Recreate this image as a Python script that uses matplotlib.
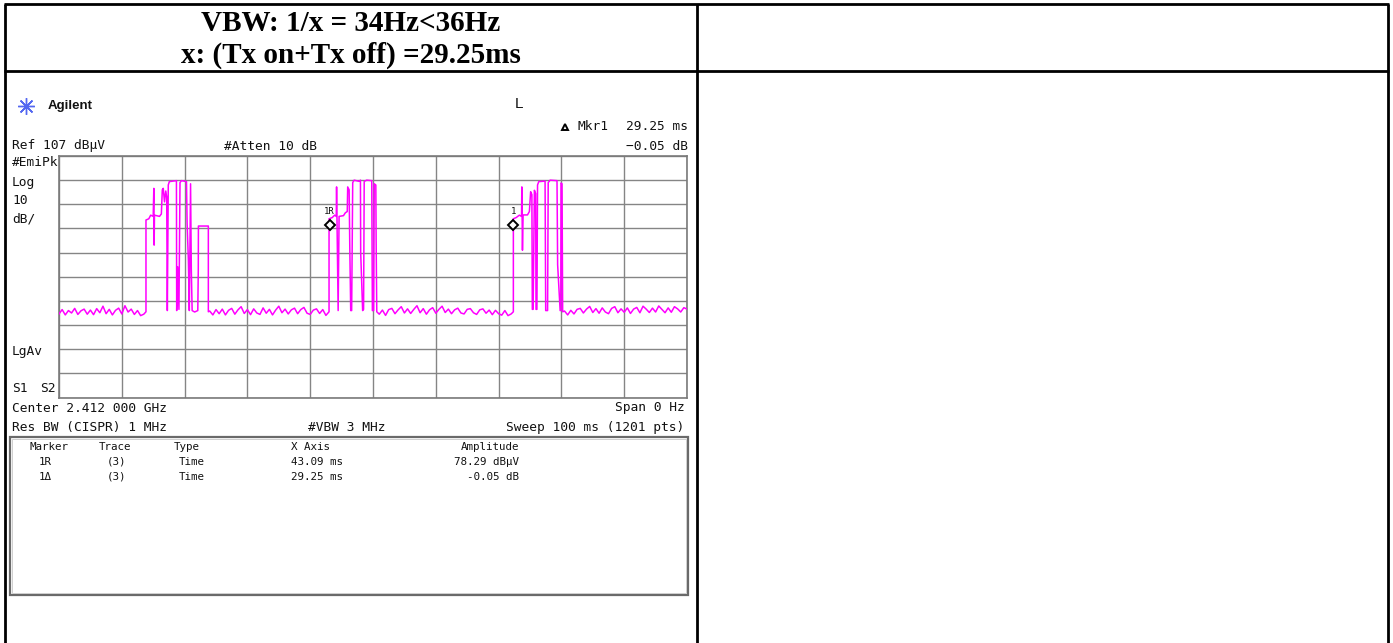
import numpy as np
import matplotlib
matplotlib.use('Agg')
import matplotlib.pyplot as plt
from matplotlib.patches import Rectangle

W, H = 1393, 643

# header cell text
title_lines = ['VBW: 1/x = 34Hz<36Hz', 'x: (Tx on+Tx off) =29.25ms']

# analyzer settings
ref_level = 107.0      # dBuV at top graticule line
db_per_div = 10.0
sweep_ms = 100.0

# noise floor between bursts (dBuV), one value every 0.5 ms from the start time
floor_start = [0.0, 24.0, 51.0, 80.5]
floor_a = [41.6, 43.4, 41.2, 43.0, 42.0, 43.9, 41.4, 42.9, 43.6, 41.5, 43.2, 41.3,
           43.8, 42.1, 44.8, 41.7, 43.5, 41.2, 43.1, 44.0, 41.6, 45.0, 42.4, 43.6,
           41.4, 43.0, 40.9, 41.5]
floor_b = [42.8, 41.2, 43.4, 41.7, 43.6, 41.2, 43.1, 43.9, 41.5, 43.3, 44.6, 41.8,
           43.4, 41.3, 43.7, 42.0, 41.4, 44.1, 41.9, 43.5, 41.2, 43.2, 44.8, 42.1,
           43.6, 41.6, 43.3, 44.0, 41.7, 43.4, 44.3, 41.9, 41.4, 43.2, 43.7, 41.8,
           43.4, 41.0]
floor_c = [41.5, 43.2, 41.0, 43.4, 43.9, 41.7, 43.3, 44.6, 42.0, 43.7, 41.8, 43.5,
           45.0, 42.1, 43.8, 41.5, 43.3, 44.2, 41.9, 43.5, 44.8, 42.2, 43.6, 41.7,
           43.3, 44.0, 42.0, 41.6, 43.5, 43.8, 42.1, 41.4, 43.3, 43.7, 41.9, 43.2,
           41.3, 43.1, 41.7, 41.1, 43.0, 40.9, 41.6]
floor_d = [42.8, 41.2, 43.1, 41.6, 43.5, 43.9, 42.0, 43.6, 44.7, 42.2, 43.8, 41.9,
           44.1, 42.4, 41.7, 43.9, 44.6, 42.1, 43.7, 42.3, 44.1, 41.8, 43.6, 44.3,
           42.1, 44.8, 43.6, 42.2, 44.0, 42.4, 44.9, 43.5, 42.1, 44.1, 42.3, 44.6,
           43.7, 42.4, 44.2, 43.6]

# transmit bursts as (time ms, level dBuV) vertices
burst_1 = [(13.85, 42.5), (13.85, 80.5), (14.3, 81.0), (14.6, 82.5), (15.0, 82.0),
           (15.1, 93.6), (15.15, 70.1), (15.2, 82.5), (16.0, 82.0), (16.3, 83.0),
           (16.45, 93.0), (16.6, 93.6), (16.8, 88.0), (17.0, 92.5), (17.15, 90.0),
           (17.25, 43.0), (17.4, 95.0), (17.57, 96.4), (18.7, 96.8), (18.74, 43.0),
           (18.9, 61.1), (19.1, 43.5), (19.27, 96.0), (19.5, 96.8), (20.3, 96.4),
           (20.4, 79.1), (20.6, 63.9), (20.75, 43.0), (20.95, 95.5), (21.07, 59.8),
           (21.2, 43.0), (21.6, 42.4), (22.1, 43.0), (22.18, 59.8), (22.2, 78.0),
           (23.78, 78.0), (23.78, 42.5)]
burst_2 = [(43.0, 42.5), (43.0, 81.0), (43.5, 81.5), (43.9, 82.5), (44.15, 82.0),
           (44.2, 94.2), (44.45, 43.0), (44.6, 82.0), (45.3, 82.3), (45.6, 83.5),
           (45.9, 84.0), (45.97, 94.2), (46.2, 93.0), (46.3, 70.0), (46.45, 43.0),
           (46.6, 43.0), (46.77, 96.0), (47.0, 97.0), (47.8, 96.5), (48.0, 97.0),
           (48.04, 67.0), (48.35, 43.0), (48.5, 43.5), (48.6, 96.5), (49.0, 97.0),
           (49.8, 96.8), (49.9, 43.0), (50.1, 43.0), (50.2, 95.5), (50.45, 95.0),
           (50.5, 72.0), (50.6, 42.5)]
burst_3 = [(72.35, 42.5), (72.35, 81.0), (72.8, 81.5), (73.3, 82.5), (73.65, 82.0),
           (73.7, 94.2), (73.8, 68.0), (73.9, 82.6), (74.6, 82.6), (74.9, 84.0),
           (75.1, 92.2), (75.3, 91.0), (75.37, 43.5), (75.5, 43.5), (75.7, 92.8),
           (75.9, 91.5), (75.96, 43.5), (76.1, 43.5), (76.2, 95.0), (76.4, 96.4),
           (77.4, 96.6), (77.5, 43.0), (77.8, 43.0), (77.9, 96.0), (78.2, 97.0),
           (79.3, 96.8), (79.4, 62.0), (79.8, 43.0), (79.9, 43.0), (79.94, 95.8),
           (80.1, 95.5), (80.2, 42.5)]

# markers: reference (time ms, dBuV) and delta (ms, dB)
marker_ref = (43.09, 78.29)
marker_delta = (29.25, -0.05)

table_header = ['Marker', 'Trace', 'Type', 'X Axis', 'Amplitude']
table_rows = [['1R', '(3)', 'Time', '43.09 ms', '78.29 dBμV'],
              ['1Δ', '(3)', 'Time', '29.25 ms', '-0.05 dB']]


def floor_segment(start, levels):
    t = start + 0.5 * np.arange(len(levels))
    return list(zip(t, levels))


trace = (floor_segment(floor_start[0], floor_a) + burst_1 +
         floor_segment(floor_start[1], floor_b) + burst_2 +
         floor_segment(floor_start[2], floor_c) + burst_3 +
         floor_segment(floor_start[3], floor_d))
trace_t, trace_db = np.array(trace).T

fig = plt.figure(figsize=(W / 100, H / 100), dpi=100)
page = fig.add_axes([0, 0, 1, 1])
page.set_xlim(0, W)
page.set_ylim(H, 0)
page.axis('off')

# table borders
lw = 2.0
page.plot([4, 1389], [4, 4], color='black', lw=lw, solid_capstyle='butt')
page.plot([4, 1389], [71, 71], color='black', lw=lw, solid_capstyle='butt')
for x in [5, 697, 1388]:
    page.plot([x, x], [4, H], color='black', lw=lw, solid_capstyle='butt')

page.text(351, 31, title_lines[0], ha='center', va='baseline', fontsize=21,
          family='Liberation Serif', fontweight='bold')
page.text(351, 63, title_lines[1], ha='center', va='baseline', fontsize=21,
          family='Liberation Serif', fontweight='bold')

# analyzer screen annotations
mono = 'DejaVu Sans Mono'
ink = '#111111'
fs = 9.3
page.plot(26, 106, marker=(8, 2, 0), ms=12, color='#5468f0', mew=1.0)
page.plot(26, 106, marker='o', ms=2.5, color='#5468f0')
page.text(48, 106, 'Agilent', ha='left', va='center', fontsize=9.5,
          family='Liberation Sans', fontweight='bold', color=ink)
page.text(519, 104, 'L', ha='center', va='center', fontsize=11,
          family='Liberation Sans', color=ink)
page.plot(565, 127, marker='^', ms=5, mfc='white', mec='black', mew=1.4)

screen_texts = [
    ('Mkr1', 577, 126, 'left'),
    ('29.25 ms', 688, 126, 'right'),
    ('Ref 107 dBμV', 12, 146, 'left'),
    ('#Atten 10 dB', 224, 146, 'left'),
    ('−0.05 dB', 688, 146, 'right'),
    ('#EmiPk', 12, 163, 'left'),
    ('Log', 12, 182.5, 'left'),
    ('10', 12, 200, 'left'),
    ('dB/', 12, 218.5, 'left'),
    ('LgAv', 12, 352, 'left'),
    ('S1', 12, 388.5, 'left'),
    ('S2', 40, 388.5, 'left'),
    ('Center 2.412 000 GHz', 12, 408, 'left'),
    ('Span 0 Hz', 685, 408, 'right'),
    ('Res BW (CISPR) 1 MHz', 12, 427.5, 'left'),
    ('#VBW 3 MHz', 308, 427.5, 'left'),
    ('Sweep 100 ms (1201 pts)', 684, 427.5, 'right'),
]
for s, x, y, ha in screen_texts:
    page.text(x, y, s, ha=ha, va='center', fontsize=fs, family=mono, color=ink)

# marker table box
page.add_patch(Rectangle((10, 437), 678, 158, fill=False, ec='#6a6a6a', lw=1.6))
page.add_patch(Rectangle((12, 439), 674, 154, fill=False, ec='#cfcfcf', lw=0.7))

tfs = 7.8
col_x = [29, 99, 174, 291, 519]
row_x = [39, 107, 179, 291, 519]
for i, s in enumerate(table_header):
    page.text(col_x[i], 446.7, s, ha='right' if i == 4 else 'left', va='center',
              fontsize=tfs, family=mono, color=ink)
for r, row in enumerate(table_rows):
    y = 462 + 14.7 * r
    for i, s in enumerate(row):
        page.text(row_x[i], y, s, ha='right' if i == 4 else 'left', va='center',
                  fontsize=tfs, family=mono, color=ink)

# graticule and trace
scr = fig.add_axes([59 / W, 1 - 397.5 / H, 628 / W, 241.5 / H])
scr.set_xlim(0, sweep_ms)
scr.set_ylim(ref_level - 10 * db_per_div, ref_level)
scr.set_xticks(np.linspace(0, sweep_ms, 11))
scr.set_yticks(np.linspace(ref_level - 10 * db_per_div, ref_level, 11))
scr.tick_params(length=0, labelbottom=False, labelleft=False)
scr.grid(True, color='#858585', lw=1.0)
scr.set_axisbelow(True)
for sp in scr.spines.values():
    sp.set_color('#7a7a7a')
    sp.set_linewidth(1.2)
scr.patch.set_alpha(0)

scr.plot(trace_t, trace_db, color='#ff00ff', lw=1.1, zorder=3)

mx, my = marker_ref
dx, dy = marker_delta
scr.plot([mx, mx + dx], [my, my + dy], ls='none', marker='D', ms=5.5,
         mfc='white', mec='black', mew=1.4, zorder=5)
scr.annotate('1R', (mx, my), xytext=(0, 7), textcoords='offset points',
             ha='center', va='bottom', fontsize=6.5, family=mono, color=ink)
scr.annotate('1', (mx + dx, my + dy), xytext=(0, 7), textcoords='offset points',
             ha='center', va='bottom', fontsize=6.5, family=mono, color=ink)

fig.savefig('out.png', dpi=100)
